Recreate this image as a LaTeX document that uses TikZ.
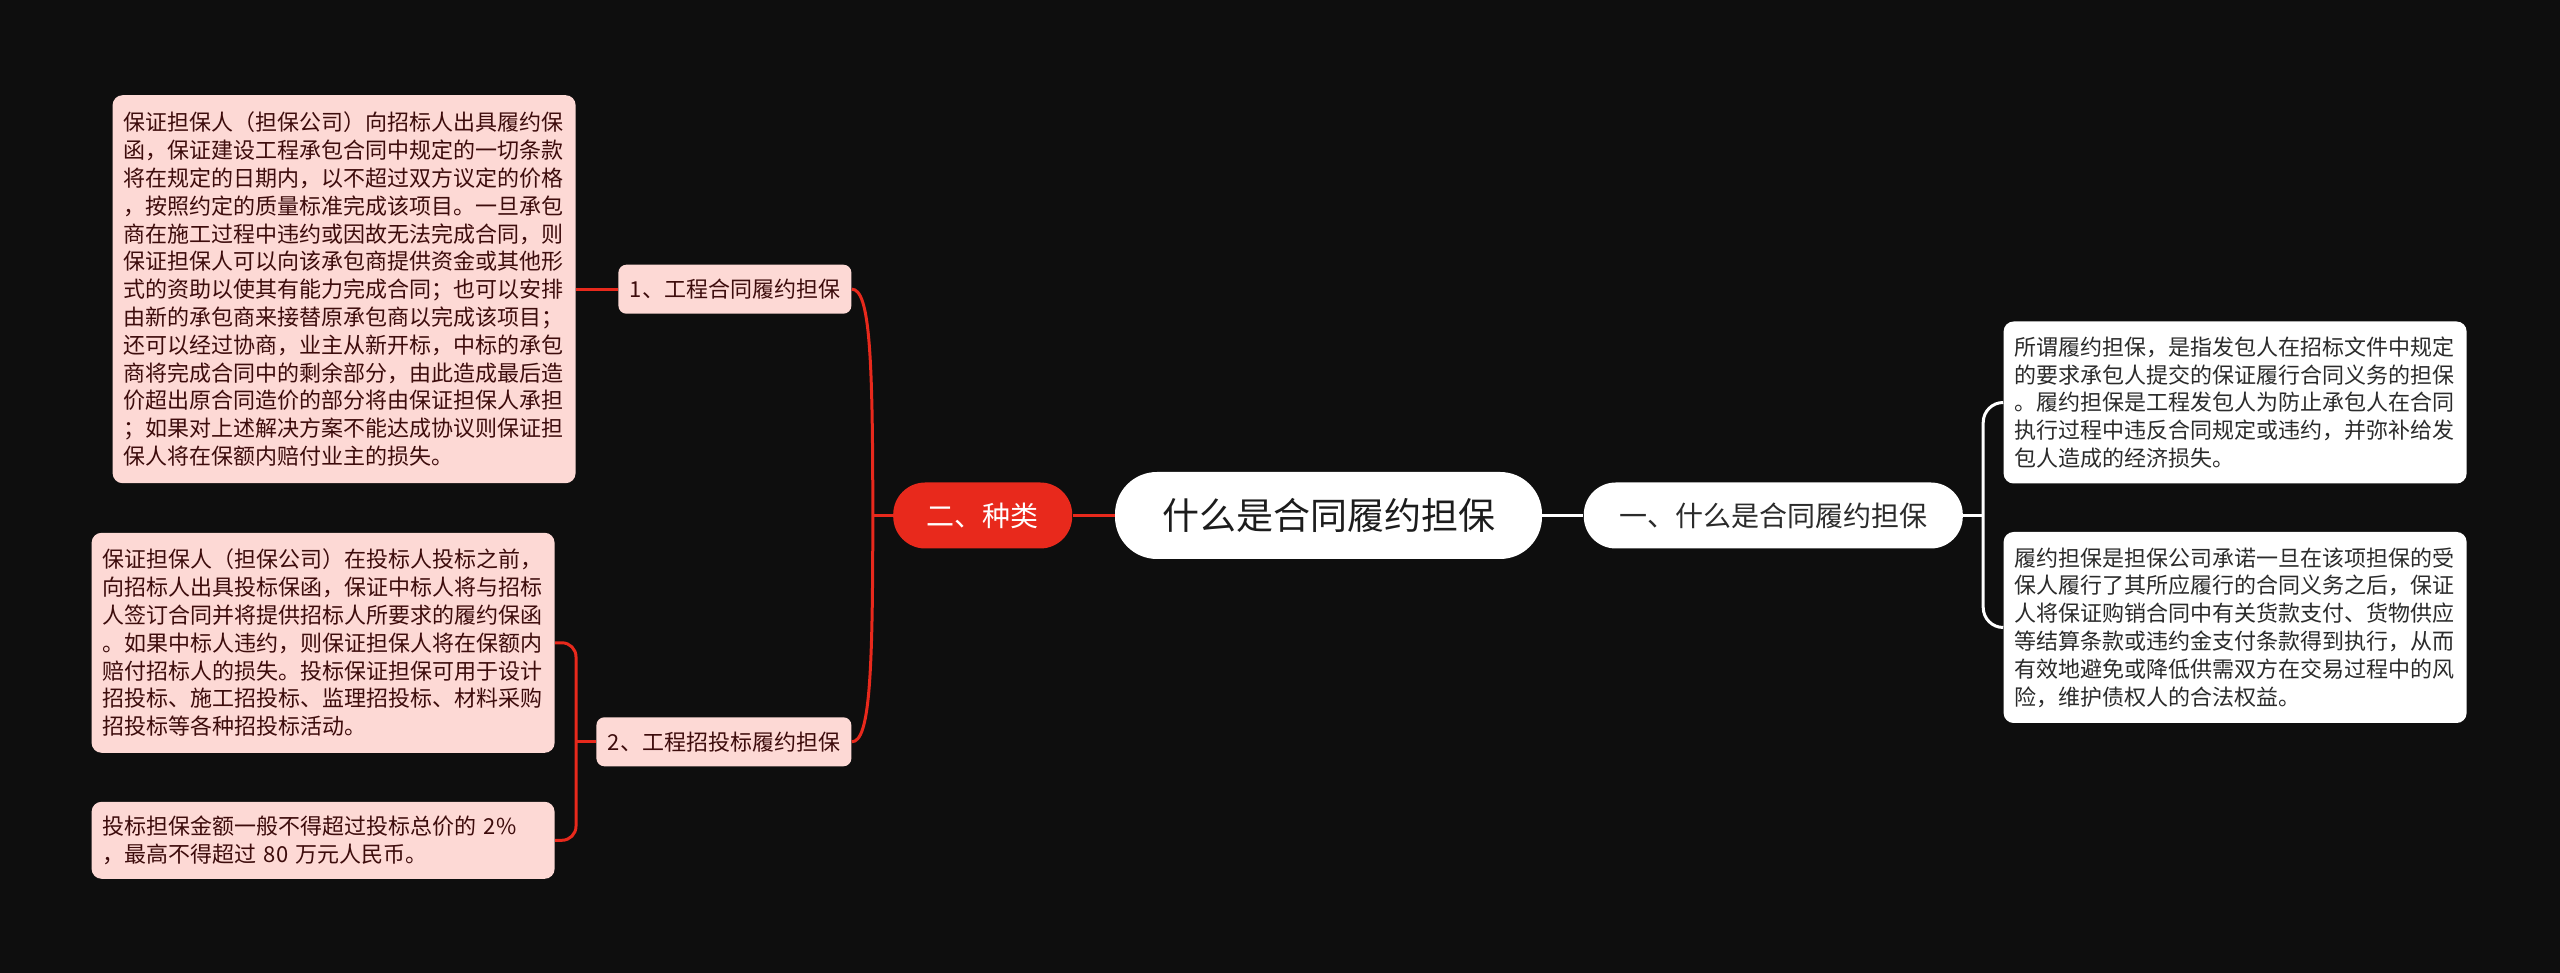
\documentclass[tikz,border=0pt]{standalone}
\usepackage{fontspec}
\setmainfont{Noto Sans CJK SC}
\usepackage{xcolor}
\definecolor{mapbg}{HTML}{0E0E0E}
\definecolor{mapred}{HTML}{E8291C}
\definecolor{mappink}{HTML}{FDD9D5}
\definecolor{pinkink}{HTML}{3D0C0C}
\definecolor{rootink}{HTML}{1C1C1C}
\definecolor{noteink}{HTML}{2B2B2B}
\usepackage{tikz}
\usetikzlibrary{positioning,calc}

\begin{document}
\begin{tikzpicture}[
  root/.style={fill=white,rounded corners=21pt,text=rootink,
    minimum width=213.5pt,minimum height=43.5pt,
    font=\fontsize{18.5}{22}\selectfont},
  sub/.style={fill=white,rounded corners=16pt,text=noteink,
    minimum width=189.5pt,minimum height=33pt,
    font=\fontsize{14}{17}\selectfont},
  cat/.style={fill=mapred,rounded corners=16pt,text=white,
    minimum width=89.5pt,minimum height=33pt,
    font=\fontsize{14}{17}\selectfont},
  item/.style={fill=mappink,rounded corners=4pt,text=pinkink,
    minimum height=24.5pt,inner xsep=5pt,
    font=\fontsize{11}{13}\selectfont},
  note/.style={fill=mappink,rounded corners=5pt,text=pinkink,
    text width=220.5pt,align=left,inner xsep=5.5pt,inner ysep=3pt,
    font=\fontsize{11}{13.9}\selectfont},
  rnote/.style={note,fill=white,text=noteink},
  redline/.style={draw=mapred,line width=1.5pt},
  wline/.style={draw=white,line width=1.8pt}
]
  % Canvas
  \useasboundingbox (0pt,0pt) rectangle (1280pt,486.5pt);
  \fill[mapbg] (0pt,0pt) rectangle (1280pt,486.5pt);
  % Centre and first level
  \node[root] (root) at (664.25pt,228.75pt) {什么是合同履约担保};
  \node[sub,right=20.5pt of root] (sub1) {一、什么是合同履约担保};
  \node[cat,left=21pt of root]    (cat)  {二、种类};
  % Kinds
  \node[item,minimum width=116.5pt,above left=84pt and 20.5pt of cat] (n1)
    {1、工程合同履约担保};
  \node[item,minimum width=127.5pt,below left=84pt and 20.5pt of cat] (n2)
    {2、工程招投标履约担保};
  % Notes on the left
  \node[note,minimum height=194pt,left=21pt of n1] (t1)
    {保证担保人（担保公司）向招标人出具履约保\\
     函，保证建设工程承包合同中规定的一切条款\\
     将在规定的日期内，以不超过双方议定的价格\\
     ，按照约定的质量标准完成该项目。一旦承包\\
     商在施工过程中违约或因故无法完成合同，则\\
     保证担保人可以向该承包商提供资金或其他形\\
     式的资助以使其有能力完成合同；也可以安排\\
     由新的承包商来接替原承包商以完成该项目；\\
     还可以经过协商，业主从新开标，中标的承包\\
     商将完成合同中的剩余部分，由此造成最后造\\
     价超出原合同造价的部分将由保证担保人承担\\
     ；如果对上述解决方案不能达成协议则保证担\\
     保人将在保额内赔付业主的损失。};
  \node[note,minimum height=110pt,left=20.5pt of n2,yshift=49.5pt] (t2)
    {保证担保人（担保公司）在投标人投标之前，\\
     向招标人出具投标保函，保证中标人将与招标\\
     人签订合同并将提供招标人所要求的履约保函\\
     。如果中标人违约，则保证担保人将在保额内\\
     赔付招标人的损失。投标保证担保可用于设计\\
     招投标、施工招投标、监理招投标、材料采购\\
     招投标等各种招投标活动。};
  \node[note,minimum height=38.5pt,left=20.5pt of n2,yshift=-49.25pt] (t3)
    {投标担保金额一般不得超过投标总价的 2\%\\
     ，最高不得超过 80 万元人民币。};
  % Notes on the right
  \node[rnote,minimum height=81pt,right=20pt of sub1,yshift=56.5pt] (r1)
    {所谓履约担保，是指发包人在招标文件中规定\\
     的要求承包人提交的保证履行合同义务的担保\\
     。履约担保是工程发包人为防止承包人在合同\\
     执行过程中违反合同规定或违约，并弥补给发\\
     包人造成的经济损失。};
  \node[rnote,minimum height=95.5pt,right=20pt of sub1,yshift=-56pt] (r2)
    {履约担保是担保公司承诺一旦在该项担保的受\\
     保人履行了其所应履行的合同义务之后，保证\\
     人将保证购销合同中有关货款支付、货物供应\\
     等结算条款或违约金支付条款得到执行，从而\\
     有效地避免或降低供需双方在交易过程中的风\\
     险，维护债权人的合法权益。};
  % Junctions
  \coordinate (jl) at ($(cat.west)+(-10pt,0pt)$);
  \coordinate (jb) at ($(n2.west)+(-10pt,0pt)$);
  \coordinate (jr) at ($(sub1.east)+(10pt,0pt)$);
  % Connectors
  \draw[redline] (t1.east) -- (n1.west);
  \draw[redline] (n1.east)
    .. controls ($(n1.east)+(9pt,0pt)$) and ($(jl)+(0pt,80pt)$) .. (jl)
    .. controls ($(jl)+(0pt,-80pt)$) and ($(n2.east)+(9pt,0pt)$) .. (n2.east);
  \draw[redline,line width=1.8pt] (jl) -- (cat.west);
  \draw[redline,line width=1.8pt] (cat.east) -- (root.west);
  \draw[redline,rounded corners=7pt] (t2.east) -| (jb) |- (t3.east);
  \draw[redline] (jb) -- (n2.west);
  \draw[wline] (root.east) -- (sub1.west);
  \draw[wline] (sub1.east) -- (jr);
  \draw[wline,line width=1.5pt,rounded corners=10pt] (r1.west) -| (jr) |- (r2.west);
\end{tikzpicture}
\end{document}
